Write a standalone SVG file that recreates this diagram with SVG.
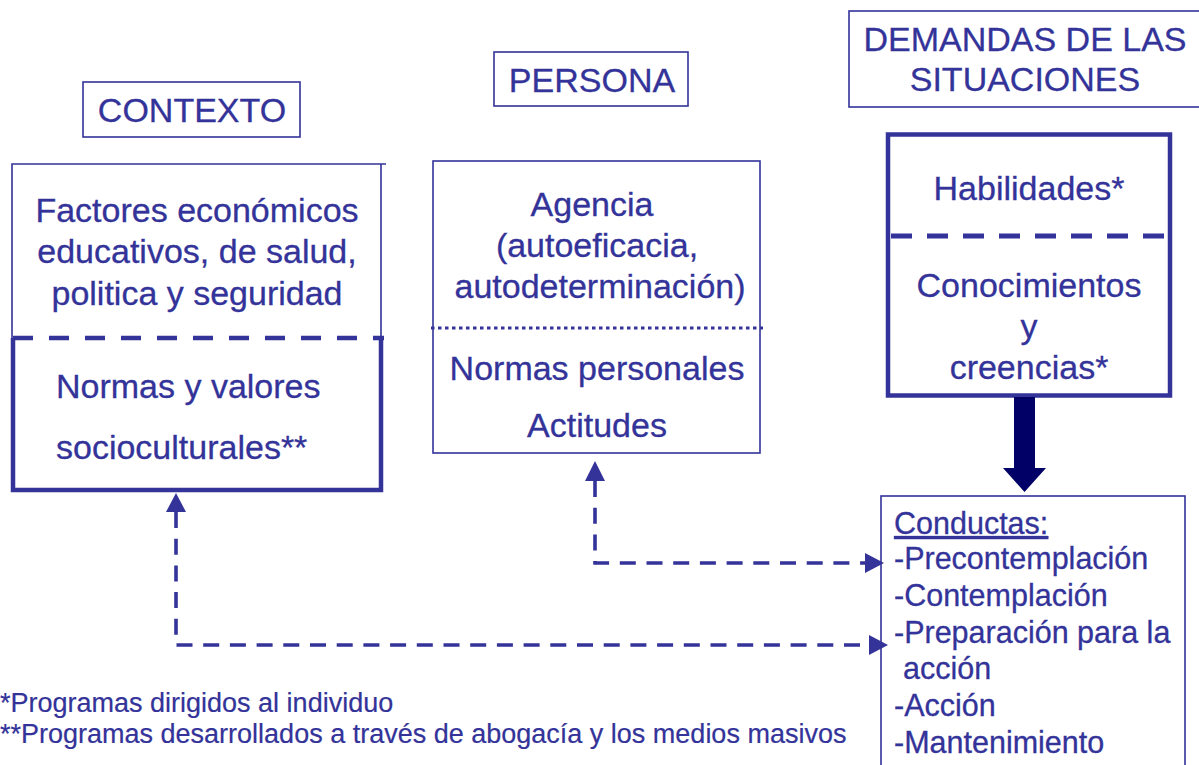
<svg xmlns="http://www.w3.org/2000/svg" width="1199" height="765" viewBox="0 0 1199 765">
<defs>
<style>
text{font-family:"Liberation Sans",Arial,sans-serif;fill:#333399;font-size:34px;stroke:#333399;stroke-width:0.3}
.c{text-anchor:middle}
.thin{fill:none;stroke:#333399;stroke-width:1.6}
.thick{fill:none;stroke:#333399;stroke-width:4.5}
.conn{fill:none;stroke:#333399;stroke-width:3.6;stroke-dasharray:16 10.7}
.ah{fill:#333399}
.cd{font-size:30.5px}
.fn{font-size:27px;stroke-width:0.2}
</style>
</defs>
<rect width="1199" height="765" fill="#ffffff"/>

<g id="title-contexto">
<rect class="thin" x="83" y="82" width="217" height="55"/>
<text class="c" x="192" y="122">CONTEXTO</text>
</g>
<g id="title-persona">
<rect class="thin" x="494" y="52" width="194" height="54"/>
<text class="c" x="592" y="92">PERSONA</text>
</g>
<g id="title-demandas">
<rect class="thin" x="849" y="11" width="400" height="96"/>
<text class="c" x="1025" y="51">DEMANDAS DE LAS</text>
<text class="c" x="1025" y="91">SITUACIONES</text>
</g>

<g id="contexto">
<path class="thin" d="M12,338 V164 H386 M381,164 V338"/>
<path class="thick" d="M13,338 V490 H381 V338"/>
<line x1="13" y1="338" x2="384" y2="338" stroke="#333399" stroke-width="4.5" stroke-dasharray="20 16"/>
<text class="c" x="197" y="222">Factores económicos</text>
<text class="c" x="197" y="263">educativos, de salud,</text>
<text class="c" x="197" y="305">politica y seguridad</text>
<text x="56" y="398">Normas y valores</text>
<text x="56" y="459">socioculturales**</text>
</g>

<g id="persona">
<rect class="thin" x="433" y="161" width="327" height="292"/>
<line x1="431" y1="328" x2="763" y2="328" stroke="#333399" stroke-width="3" stroke-dasharray="3.5 3.5"/>
<text class="c" x="592" y="216">Agencia</text>
<text class="c" x="597" y="257">(autoeficacia,</text>
<text class="c" x="600" y="298">autodeterminación)</text>
<text class="c" x="597" y="380">Normas personales</text>
<text class="c" x="597" y="437">Actitudes</text>
</g>

<g id="demandas">
<rect class="thick" x="888" y="134.5" width="282" height="261"/>
<line x1="891" y1="236" x2="1166" y2="236" stroke="#333399" stroke-width="5" stroke-dasharray="21 15"/>
<text class="c" x="1029" y="200">Habilidades*</text>
<text class="c" x="1029" y="297">Conocimientos</text>
<text class="c" x="1029" y="338">y</text>
<text class="c" x="1029" y="379">creencias*</text>
</g>

<g id="conductas">
<rect class="thin" x="881" y="496" width="304" height="280"/>
<text class="cd" x="894" y="534" text-decoration="underline">Conductas:</text>
<text class="cd" x="894" y="569">-Precontemplación</text>
<text class="cd" x="894" y="606">-Contemplación</text>
<text class="cd" x="894" y="643">-Preparación para la</text>
<text class="cd" x="903" y="679">acción</text>
<text class="cd" x="894" y="716">-Acción</text>
<text class="cd" x="894" y="753">-Mantenimiento</text>
</g>

<g id="connectors">
<polygon points="1014,397 1035,397 1035,468 1046,468 1024.5,492 1003,468 1014,468" fill="#000066"/>
<path class="conn" d="M595,481 V563 H866"/>
<polygon class="ah" points="595,461 605,481 585,481"/>
<polygon class="ah" points="884,563 865,553 865,573"/>
<path class="conn" d="M176,512 V645 H870"/>
<polygon class="ah" points="176,493 186,512 166,512"/>
<polygon class="ah" points="888,645 869,635 869,655"/>
</g>

<g id="footnotes">
<text class="fn" x="0" y="712">*Programas dirigidos al individuo</text>
<text class="fn" x="0" y="743">**Programas desarrollados a través de abogacía y los medios masivos</text>
</g>
</svg>
